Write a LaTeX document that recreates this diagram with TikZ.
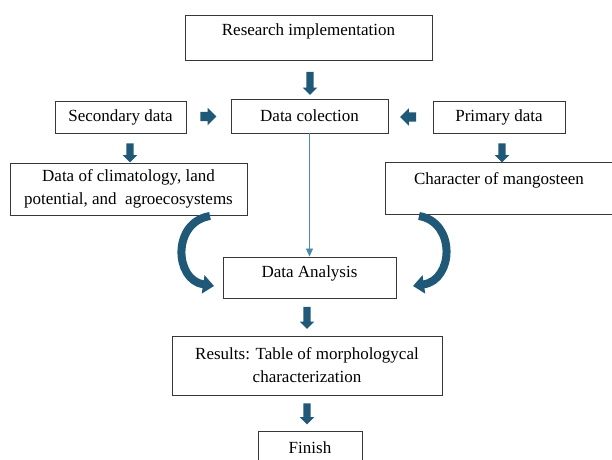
\documentclass[tikz,border=0pt]{standalone}
\usepackage{fontspec}
\setmainfont{Liberation Serif}
\usetikzlibrary{shapes.arrows,arrows.meta}
\definecolor{arrowblue}{RGB}{31,89,119}
\definecolor{thinblue}{RGB}{74,138,176}
\definecolor{boxline}{RGB}{55,55,55}
\begin{document}
\begin{tikzpicture}[x=1pt,y=-1pt,
  box/.style={draw=boxline, line width=0.9pt, fill=white, inner sep=2pt, align=center,
    font=\fontsize{17}{23}\selectfont},
  downarrow/.style={single arrow, fill=arrowblue, draw=none, inner xsep=0pt, inner ysep=3.5pt,
    text height=0pt, text depth=0pt, text width=0pt,
    single arrow head extend=3.5pt, rotate=-90},
  sidearrow/.style={single arrow, fill=arrowblue, draw=none, inner xsep=0pt, inner ysep=4.5pt,
    text height=0pt, text depth=0pt, text width=0pt,
    single arrow head extend=4pt, minimum height=16pt},
  curvedarrow/.style={draw=arrowblue, line width=8pt, -{Triangle[width=18pt,length=11pt]}},
  thinline/.style={draw=thinblue, line width=0.8pt, -{Triangle[width=7pt,length=8pt]}}
]
\path[use as bounding box] (0,0) rectangle (612,459);
\clip (0,0) rectangle (612,459);

\node[box, minimum width=247pt, minimum height=45pt, text depth=16pt] (ri) at (308.5,37.5) {Research implementation};
\node[box, minimum width=157pt, minimum height=34pt] (dc) at (309.5,116) {Data colection};
\node[box, minimum width=131pt, minimum height=32pt] (sd) at (120.5,117) {Secondary data};
\node[box, minimum width=132pt, minimum height=32pt] (pd) at (499,117) {Primary data};
\node[box, minimum width=237pt, minimum height=52pt] (clim) at (128.5,189) {Data of climatology, land\\potential, and\ \ agroecosystems};
\node[box, minimum width=228pt, minimum height=52pt, text depth=19pt] (cm) at (499,188) {Character of mangosteen};
\node[box, minimum width=173pt, minimum height=41pt, text depth=11pt] (da) at (309.5,277.5) {Data Analysis};
\node[box, minimum width=270pt, minimum height=59pt] (res) at (307,365.5) {Results: Table of morphologycal\\characterization};
\node[box, minimum width=104pt, minimum height=34pt] (fin) at (310,448) {Finish};

\node[downarrow, minimum height=23pt] (a1) at (310,81.5) {};
\node[sidearrow] (a2) at (206,116.5) {};
\node[sidearrow, rotate=180] (a3) at (410.5,117) {};
\node[downarrow, minimum height=19pt] (a4) at (130,151) {};
\node[downarrow, minimum height=19pt] (a5) at (502,151) {};
\node[downarrow, minimum height=22pt] (a6) at (307,316) {};
\node[downarrow, minimum height=21pt] (a7) at (307,412) {};

\draw[thinline] (dc.south) -- (da.north);

\coordinate (l1) at (210,216);
\coordinate (l2) at (214,286);
\coordinate (r1) at (419,216);
\coordinate (r2) at (413,286);
\draw[curvedarrow] (l1) .. controls (172,222) and (174,280) .. (l2);
\draw[curvedarrow] (r1) .. controls (456,222) and (454,280) .. (r2);
\end{tikzpicture}
\end{document}
